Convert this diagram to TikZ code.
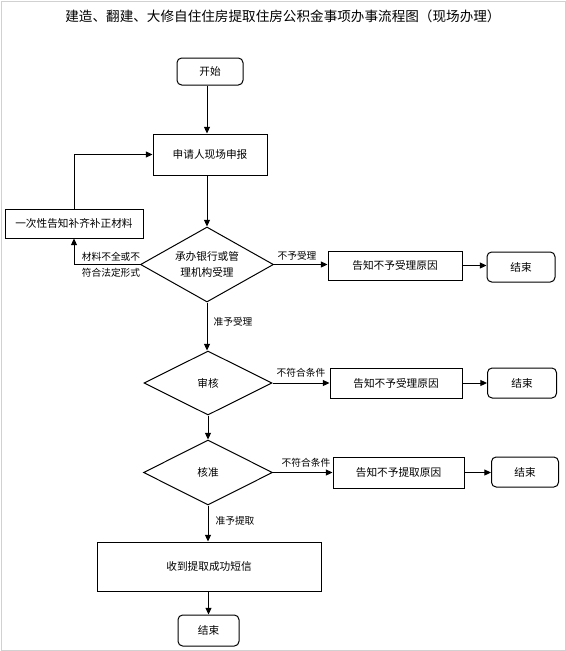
\documentclass[tikz,border=0pt]{standalone}
\usepackage{fontspec}
\setmainfont{Noto Sans CJK SC}
\usetikzlibrary{shapes.geometric,arrows.meta}
\begin{document}
\begin{tikzpicture}[x=0.75pt,y=-0.75pt,
  box/.style={draw,line width=0.75pt,inner sep=0,align=center,font=\fontsize{8}{12}\selectfont},
  rbox/.style={box,rounded corners=3.5pt},
  dec/.style={draw,diamond,line width=0.75pt,inner sep=0,align=center,font=\fontsize{8}{12}\selectfont},
  lbl/.style={font=\fontsize{7.3}{12}\selectfont,inner sep=0,align=center},
  arr/.style={-{Triangle[length=5pt,width=4.5pt]},line width=0.75pt},
  ln/.style={line width=0.75pt}]
\useasboundingbox (0,0) rectangle (566,651);
\draw[black!18] (1,1) rectangle (565,650);
\node[font=\fontsize{10.2}{14}\selectfont] (title) at (283,16) {建造、翻建、大修自住住房提取住房公积金事项办事流程图（现场办理）};

\node[rbox,minimum width=49.5pt,minimum height=20.25pt] (start) at (210,71.5) {开始};
\node[box,minimum width=85.5pt,minimum height=30.75pt] (apply) at (210,154.5) {申请人现场申报};
\node[box,minimum width=103.5pt,minimum height=21.75pt] (supp) at (74,223.5) {一次性告知补齐补正材料};
\node[dec,minimum width=99.75pt,minimum height=56.25pt,aspect=1.77] (d1) at (207,264.5) {承办银行或管\\理机构受理};
\node[box,minimum width=100.5pt,minimum height=21.75pt] (r1) at (395,265.5) {告知不予受理原因};
\node[rbox,minimum width=51pt,minimum height=22.5pt] (e1) at (521,267) {结束};
\node[dec,minimum width=96pt,minimum height=48pt,aspect=2] (d2) at (208,383) {审核};
\node[box,minimum width=99pt,minimum height=22.5pt] (r2) at (396,383) {告知不予受理原因};
\node[rbox,minimum width=51.75pt,minimum height=22.5pt] (e2) at (522,383) {结束};
\node[dec,minimum width=96.75pt,minimum height=48.75pt,aspect=2] (d3) at (208,472.5) {核准};
\node[box,minimum width=98.25pt,minimum height=23.25pt] (r3) at (398.5,472.5) {告知不予提取原因};
\node[rbox,minimum width=50.25pt,minimum height=22.5pt] (e3) at (525,472) {结束};
\node[box,minimum width=168pt,minimum height=36.75pt] (sms) at (209,566.5) {收到提取成功短信};
\node[rbox,minimum width=45.75pt,minimum height=23.25pt] (e4) at (208.5,630.5) {结束};

\node[lbl] (l1) at (111,265) {材料不全或不\\符合法定形式};
\node[lbl] (l2) at (297,256) {不予受理};
\node[lbl] (l3) at (233,322) {准予受理};
\node[lbl] (l4) at (301,373) {不符合条件};
\node[lbl] (l5) at (306,463) {不符合条件};
\node[lbl] (l6) at (235,521) {准予提取};

\draw[arr] (start.south -| d1.north) -- (apply.north -| d1.north);
\draw[arr] (apply.south -| d1.north) -- (d1.north);
\draw[arr] (d1.west) -| (supp.south);
\draw[arr] (supp.north) |- (apply.west);
\draw[arr] (d1.east) -- (d1.east -| r1.west);
\draw[arr] (r1.east) -- (r1.east -| e1.west);
\draw[arr] (d1.south) -- (d1.south |- d2.north);
\draw[arr] (d2.east) -- (d2.east -| r2.west);
\draw[arr] (r2.east) -- (r2.east -| e2.west);
\draw[arr] (d2.south) -- (d3.north);
\draw[arr] (d3.east) -- (d3.east -| r3.west);
\draw[arr] (r3.east) -- (r3.east -| e3.west);
\draw[arr] (d3.south) -- (d3.south |- sms.north);
\draw[arr] (sms.south -| e4.north) -- (e4.north);
\end{tikzpicture}
\end{document}
